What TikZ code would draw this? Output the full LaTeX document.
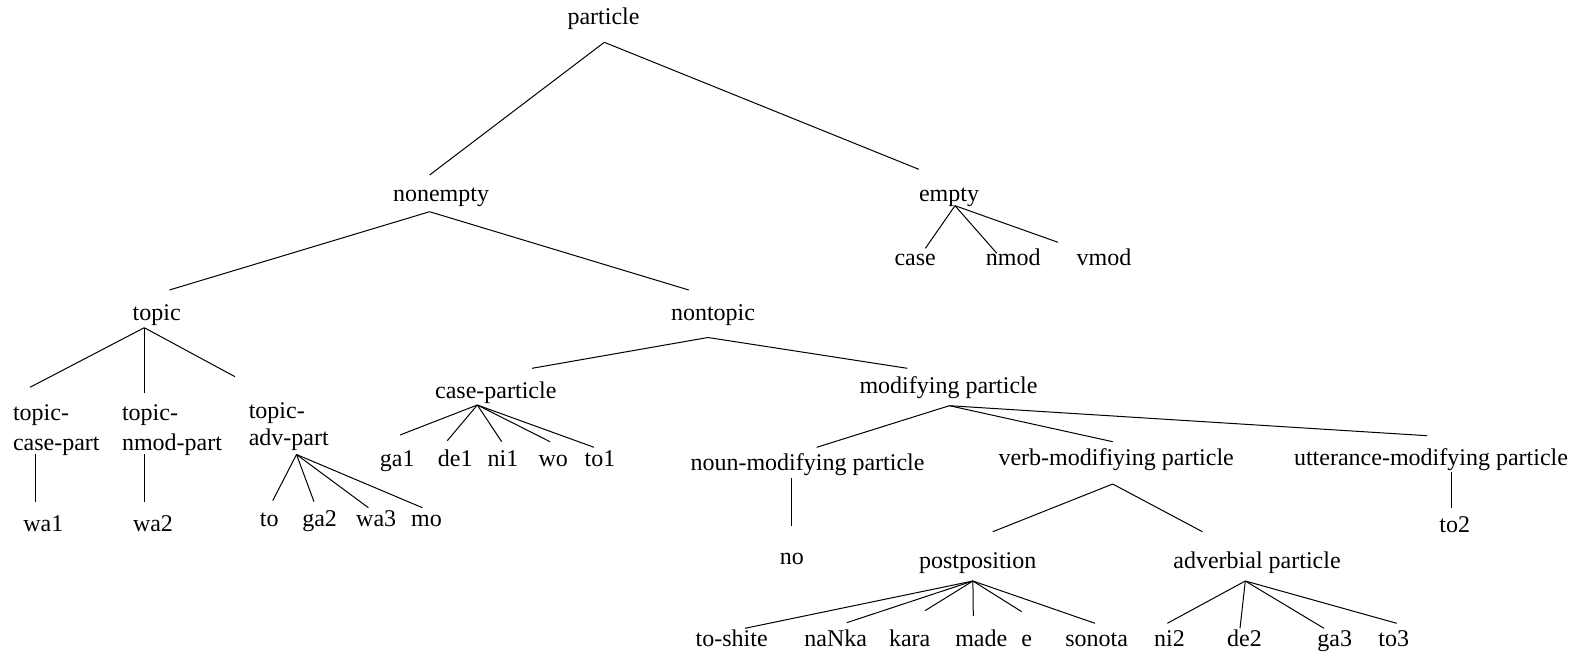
\documentclass[tikz,border=0pt]{standalone}
\usepackage{fontspec}
\setmainfont{Liberation Serif}
\begin{document}
\begin{tikzpicture}[x=0.5pt, y=-0.5pt, line width=0.5pt,
    lbl/.style={inner sep=0pt, anchor=base, font=\fontsize{12}{15}\selectfont},
    lbl2/.style={lbl, anchor=north west, align=left}]
\useasboundingbox (0,0) rectangle (1580,659);

\node[lbl] (particle) at (603.5,24) {particle};
\node[lbl] (nonempty) at (441,201) {nonempty};
\node[lbl] (empty) at (949,201) {empty};
\node[lbl] (case) at (915.2,265.6) {case};
\node[lbl] (nmod) at (1013.3,265.6) {nmod};
\node[lbl] (vmod) at (1104,265.6) {vmod};
\node[lbl] (topic) at (156.7,320.7) {topic};
\node[lbl] (nontopic) at (713,320.7) {nontopic};
\node[lbl2] (tcase) at (12.5,404.6) {topic-\\case-part};
\node[lbl2] (tnmod) at (121.5,404.6) {topic-\\nmod-part};
\node[lbl2] (tadv) at (248.3,402.3) {topic-\\[-1.5pt]adv-part};
\node[lbl] (wa1) at (43.3,531.7) {wa1};
\node[lbl] (wa2) at (153,531.7) {wa2};
\node[lbl] (tox) at (269.3,526.7) {to};
\node[lbl] (ga2) at (319.6,526.7) {ga2};
\node[lbl] (wa3) at (376.2,526.7) {wa3};
\node[lbl] (mo) at (426.5,526.7) {mo};
\node[lbl] (casep) at (495.8,398.3) {case-particle};
\node[lbl] (ga1) at (397.2,466.5) {ga1};
\node[lbl] (de1) at (455.3,466.5) {de1};
\node[lbl] (ni1) at (503,466.5) {ni1};
\node[lbl] (wo) at (553.3,466.5) {wo};
\node[lbl] (to1) at (600,466.5) {to1};
\node[lbl] (modp) at (948.5,393.3) {modifying particle};
\node[lbl] (nounmod) at (807.5,470) {noun-modifying particle};
\node[lbl] (verbmod) at (1116.2,465) {verb-modifiying particle};
\node[lbl] (uttmod) at (1431,465) {utterance-modifying particle};
\node[lbl] (no) at (791.8,564) {no};
\node[lbl] (to2) at (1454.8,532) {to2};
\node[lbl] (postp) at (977.7,568.5) {postposition};
\node[lbl] (advp) at (1257,568.5) {adverbial particle};
\node[lbl] (toshite) at (731.7,646) {to-shite};
\node[lbl] (nanka) at (835.8,646) {naNka};
\node[lbl] (kara) at (909.7,646) {kara};
\node[lbl] (made) at (981.3,646) {made};
\node[lbl] (e) at (1026.7,646) {e};
\node[lbl] (sonota) at (1096.7,646) {sonota};
\node[lbl] (ni2) at (1169.5,646) {ni2};
\node[lbl] (de2) at (1244.5,646) {de2};
\node[lbl] (ga3) at (1334.8,646) {ga3};
\node[lbl] (to3) at (1393.8,646) {to3};

% branch points under the mother nodes
\foreach \n/\x/\y in {particle/604.3/42.3, nonempty/429.6/211.7, empty/955/205.7,
    topic/144.3/327.7, tcase/35.7/454.3, tnmod/144.5/454.3, tadv/296.5/454.5,
    nontopic/708/337.5, casep/477.3/405, modp/949.4/405.7, nounmod/791.7/478.3,
    uttmod/1451.4/471.7, verbmod/1112.7/484, postp/972.9/581, advp/1245.3/581}
  \coordinate (\n-o) at (\x,\y);

% line ends above the daughters
\foreach \n/\x/\y in {nonempty/429.6/175, empty/918.8/169.3,
    case/925.4/248.3, nmod/996.8/253.3, vmod/1058/242.3,
    topic/169.4/290, nontopic/688.8/290,
    tcase/30/387.3, tnmod/144.3/393.3, tadv/235/376.7,
    wa1/35.7/501.7, wa2/144.5/501.7,
    tox/272.7/500.7, ga2/314/501.7, wa3/368.4/507.7, mo/422.4/507.7,
    casep/532/368.3, modp/907.3/368.3,
    ga1/400/435, de1/447.3/440.7, ni1/501.7/441.7, wo/550/441.7, to1/594/447.3,
    nounmod/816.7/447.3, verbmod/1112.7/441.7, uttmod/1427/435.7,
    no/791.7/526, to2/1451.4/507.7,
    postp/992.8/531.7, advp/1202.4/531.7,
    toshite/745/628.3, nanka/846.7/622.7, kara/925/610.7, made/973.3/616,
    e/1021.7/611.7, sonota/1095/623.3,
    ni2/1167.3/623.3, de2/1240/628.3, ga3/1324/628.3, to3/1396.7/623.3}
  \coordinate (\n-i) at (\x,\y);

\foreach \a/\b in {particle/nonempty, particle/empty,
    empty/case, empty/nmod, empty/vmod,
    nonempty/topic, nonempty/nontopic,
    topic/tcase, topic/tnmod, topic/tadv,
    tcase/wa1, tnmod/wa2,
    tadv/tox, tadv/ga2, tadv/wa3, tadv/mo,
    nontopic/casep, nontopic/modp,
    casep/ga1, casep/de1, casep/ni1, casep/wo, casep/to1,
    modp/nounmod, modp/verbmod, modp/uttmod,
    nounmod/no, uttmod/to2,
    verbmod/postp, verbmod/advp,
    postp/toshite, postp/nanka, postp/kara, postp/made, postp/e, postp/sonota,
    advp/ni2, advp/de2, advp/ga3, advp/to3}
  \draw (\a-o) -- (\b-i);
\end{tikzpicture}
\end{document}
